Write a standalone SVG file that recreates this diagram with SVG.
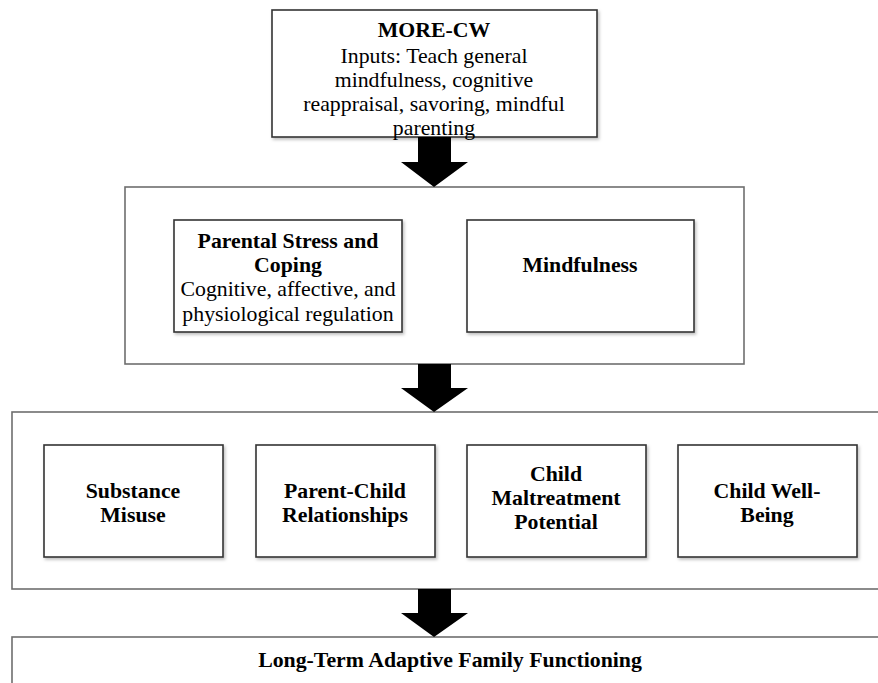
<svg xmlns="http://www.w3.org/2000/svg" width="878" height="683" viewBox="0 0 878 683">
<defs>
<filter id="sh" x="-10%" y="-10%" width="130%" height="130%">
<feDropShadow dx="1.5" dy="2" stdDeviation="1.5" flood-color="#000" flood-opacity="0.25"/>
</filter>
</defs>
<style>
.cont{fill:#fff;stroke:#6e6e6e;stroke-width:1.6}
.box{fill:#fff;stroke:#333;stroke-width:1.6;filter:url(#sh)}
text{font-family:"Liberation Serif","Times New Roman",serif;font-size:21.8px;fill:#000;text-anchor:middle}
.b{font-weight:bold}
.arr{fill:#000}
</style>
<rect width="878" height="683" fill="#fff"/>
<g id="more-cw">
<rect class="box" x="272" y="10" width="325" height="127"/>
<text class="b" x="434" y="37">MORE-CW</text>
<text x="434" y="63">Inputs: Teach general</text>
<text x="434" y="87">mindfulness, cognitive</text>
<text x="434" y="111">reappraisal, savoring, mindful</text>
<text x="434" y="135">parenting</text>
</g>
<g id="mechanisms">
<rect class="cont" x="125" y="187" width="619" height="177"/>
</g>
<g id="stress">
<rect class="box" x="174" y="220" width="228" height="112"/>
<text class="b" x="288" y="248">Parental Stress and</text>
<text class="b" x="288" y="272">Coping</text>
<text x="288" y="296">Cognitive, affective, and</text>
<text x="288" y="321">physiological regulation</text>
</g>
<g id="mindfulness">
<rect class="box" x="467" y="220" width="227" height="112"/>
<text class="b" x="580" y="272">Mindfulness</text>
</g>
<g id="outcomes">
<rect class="cont" x="12" y="412" width="880" height="177"/>
</g>
<g id="substance">
<rect class="box" x="44" y="445" width="179" height="112"/>
<text class="b" x="133" y="498">Substance</text>
<text class="b" x="133" y="522">Misuse</text>
</g>
<g id="parentchild">
<rect class="box" x="256" y="445" width="179" height="112"/>
<text class="b" x="345" y="498">Parent-Child</text>
<text class="b" x="345" y="522">Relationships</text>
</g>
<g id="maltreatment">
<rect class="box" x="467" y="445" width="179" height="112"/>
<text class="b" x="556" y="481">Child</text>
<text class="b" x="556" y="505">Maltreatment</text>
<text class="b" x="556" y="529">Potential</text>
</g>
<g id="wellbeing">
<rect class="box" x="678" y="445" width="179" height="112"/>
<text class="b" x="767" y="498">Child Well-</text>
<text class="b" x="767" y="522">Being</text>
</g>
<g id="longterm">
<rect class="cont" x="12" y="637" width="880" height="60"/>
<text class="b" x="450" y="667">Long-Term Adaptive Family Functioning</text>
</g>
<g id="connectors">
<polygon class="arr" points="418,137 451,137 451,162 468,162 434,187 401,162 418,162"/>
<polygon class="arr" points="418,364 451,364 451,388 468,388 434,412 401,388 418,388"/>
<polygon class="arr" points="418,589 451,589 451,613 468,613 434,637 401,613 418,613"/>
</g>
</svg>
